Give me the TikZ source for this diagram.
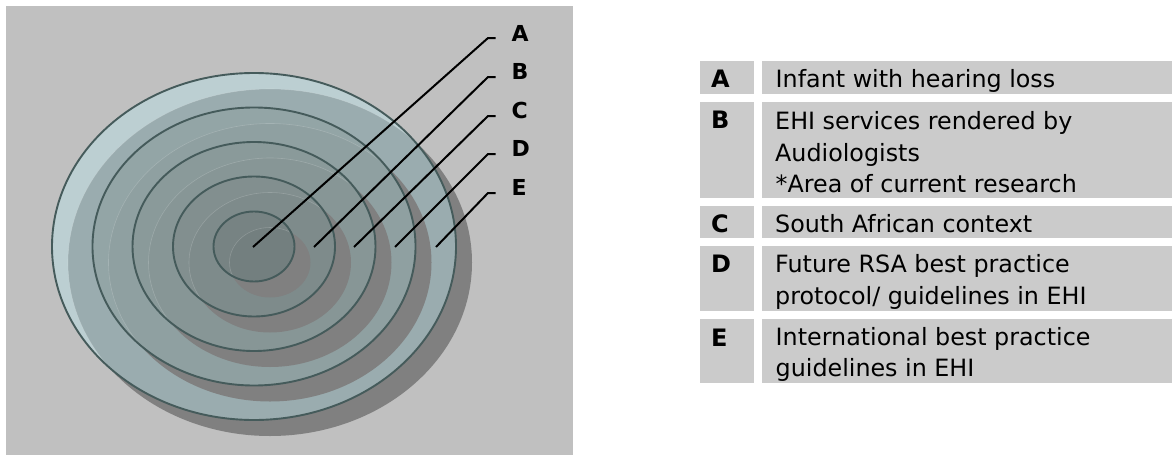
\documentclass[tikz,border=0pt]{standalone}
\usepackage{fontspec}
\setmainfont{DejaVu Sans}
\definecolor{panelgray}{HTML}{C0C0C0}
\definecolor{shadowgray}{HTML}{808080}
\definecolor{ringline}{HTML}{455B5B}
\definecolor{cellgray}{HTML}{CBCBCB}
\definecolor{eL}{HTML}{BCCFD2}
\definecolor{eM}{HTML}{9AACAF}
\definecolor{dL}{HTML}{93A5A6}
\definecolor{dM}{HTML}{8FA0A1}
\definecolor{cL}{HTML}{8A9A9A}
\definecolor{cM}{HTML}{879696}
\definecolor{bL}{HTML}{828F8F}
\definecolor{bM}{HTML}{7E8B8B}
\definecolor{aL}{HTML}{778383}
\definecolor{aM}{HTML}{737F7F}
\newcommand\levelring[4]{%
  \fill[shadowgray] (270,262.5) ellipse [x radius=#1pt, y radius=#2pt];
  \fill[#3] (254,246.5) ellipse [x radius=#1pt, y radius=#2pt];
  \begin{scope}
    \clip (254,246.5) ellipse [x radius=#1pt, y radius=#2pt];
    \fill[#4] (270,262.5) ellipse [x radius=#1pt, y radius=#2pt];
    \draw[white,opacity=0.18,line width=0.6pt] (270,262.5) ellipse [x radius=#1pt, y radius=#2pt];
  \end{scope}
  \draw[ring] (254,246.5) ellipse [x radius=#1pt, y radius=#2pt];
}
\begin{document}
\begin{tikzpicture}[x=1pt,y=-1pt,
  ring/.style={draw=ringline,line width=1.9pt},
  leader/.style={draw=black,line width=2pt},
  lab/.style={font=\fontsize{22}{22}\selectfont\bfseries,inner sep=0pt,anchor=base west},
  cell/.style={fill=cellgray},
  key/.style={font=\fontsize{24}{24}\selectfont\bfseries,inner sep=0pt,anchor=base west},
  txt/.style={font=\fontsize{23.8}{24}\selectfont,inner sep=0pt,anchor=base west}]
\useasboundingbox (0,0) rectangle (1172,455);
\fill[white] (0,0) rectangle (1172,455);
% panel
\fill[panelgray] (6,6) rectangle (573,455);
% rings
\levelring{202}{173.5}{eL}{eM}
\levelring{161.5}{139}{dL}{dM}
\levelring{121.5}{104.5}{cL}{cM}
\levelring{81}{70}{bL}{bM}
\levelring{40.5}{35}{aL}{aM}
% leader coordinates
\coordinate (pA) at (253,247); \coordinate (kA) at (488,38);  \coordinate (hA) at (495.5,38);
\coordinate (pB) at (314,247); \coordinate (kB) at (488,77);  \coordinate (hB) at (495.5,77);
\coordinate (pC) at (354,247); \coordinate (kC) at (488,116); \coordinate (hC) at (495.5,116);
\coordinate (pD) at (395,247); \coordinate (kD) at (488,154); \coordinate (hD) at (495.5,154);
\coordinate (pE) at (436,247); \coordinate (kE) at (488,193); \coordinate (hE) at (495.5,193);
\draw[leader] (pA) -- (kA) -- (hA);
\draw[leader] (pB) -- (kB) -- (hB);
\draw[leader] (pC) -- (kC) -- (hC);
\draw[leader] (pD) -- (kD) -- (hD);
\draw[leader] (pE) -- (kE) -- (hE);
\node[lab] (lA) at (511.5,41.7) {A};
\node[lab] (lB) at (511.5,79.3) {B};
\node[lab] (lC) at (511.5,118.3) {C};
\node[lab] (lD) at (511.5,156.7) {D};
\node[lab] (lE) at (511.5,195) {E};
% table
\path[cell] (700,61) rectangle (754,94);   \path[cell] (762,61) rectangle (1172,94);
\path[cell] (700,102) rectangle (754,198); \path[cell] (762,102) rectangle (1172,198);
\path[cell] (700,206) rectangle (754,238); \path[cell] (762,206) rectangle (1172,238);
\path[cell] (700,246) rectangle (754,311); \path[cell] (762,246) rectangle (1172,311);
\path[cell] (700,319) rectangle (754,383); \path[cell] (762,319) rectangle (1172,383);
\node[key] (kyA) at (711,87.7) {A};
\node[key] (kyB) at (711,128.7) {B};
\node[key] (kyC) at (711,232.7) {C};
\node[key] (kyD) at (711,272) {D};
\node[key] (kyE) at (711,346) {E};
\node[txt] (tA) at (775.5,87.7) {Infant with hearing loss};
\node[txt] (tB1) at (775,129) {EHI services rendered by};
\node[txt] (tB2) at (775,161) {Audiologists};
\node[txt] (tB3) at (775.5,192.7) {*Area of current research};
\node[txt] (tC) at (775,232.7) {South African context};
\node[txt] (tD1) at (775,272.3) {Future RSA best practice};
\node[txt] (tD2) at (775,304) {protocol/ guidelines in EHI};
\node[txt] (tE1) at (775.5,345) {International best practice};
\node[txt] (tE2) at (775.5,376.7) {guidelines in EHI};
\end{tikzpicture}
\end{document}
